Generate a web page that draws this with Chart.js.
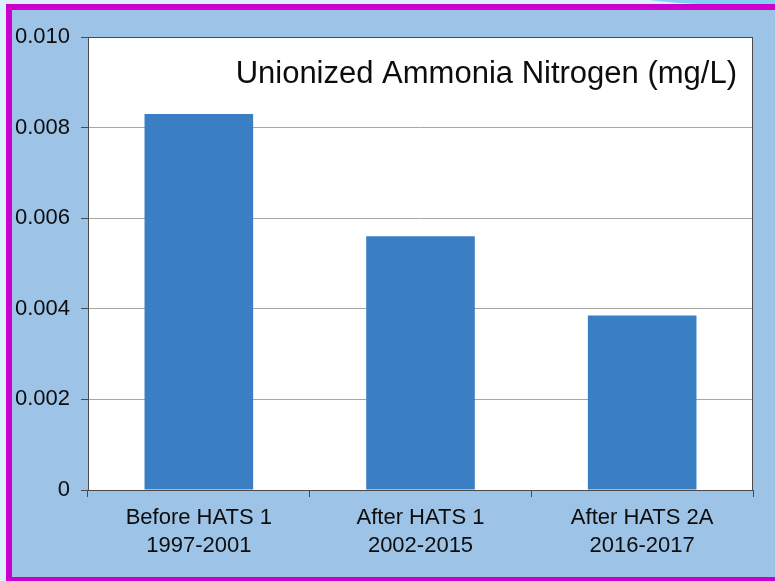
<!DOCTYPE html>
<html>
<head>
<meta charset="utf-8">
<script src="https://cdn.jsdelivr.net/npm/chart.js@4.4.1/dist/chart.umd.min.js"></script>
<style>
  html, body { margin: 0; padding: 0; }
  body { width: 775px; height: 581px; background: #dcefff; position: relative; overflow: hidden; font-family: "Liberation Sans", Arial, sans-serif; }
  .swoosh { position: absolute; left: 560px; top: -60px; width: 420px; height: 66px; border-radius: 50%; background: #80cff5; }
  .panel { position: absolute; left: 6px; top: 4px; width: 769px; height: 577px; box-sizing: border-box;
           background: #9dc3e6; border-left: 6px solid #cc00cc; border-top: 6px solid #cc00cc; border-bottom: 4px solid #cc00cc; }
  .wrap { position: absolute; left: 0; top: 0; width: 775px; height: 581px; }
</style>
</head>
<body>
<div class="swoosh"></div>
<div class="panel"></div>
<div class="wrap"><canvas id="chart"></canvas></div>
<script>
// data
const periods = [['Before HATS 1', '1997-2001'], ['After HATS 1', '2002-2015'], ['After HATS 2A', '2016-2017']];
const ammonia = [0.0083, 0.0056, 0.00385];
const chartTitle = 'Unionized Ammonia Nitrogen (mg/L)';

// white plot area, frame round it + title inside it
const frame = {
  id: 'frame',
  beforeDraw(chart) {
    const { ctx, chartArea: a } = chart;
    ctx.save();
    ctx.fillStyle = '#ffffff';
    ctx.fillRect(a.left, a.top, a.right - a.left, a.bottom - a.top);
    ctx.restore();
  },
  afterDatasetsDraw(chart) {
    const { ctx, chartArea: a } = chart;
    ctx.save();
    ctx.strokeStyle = '#4a4a4a';
    ctx.lineWidth = 1;
    ctx.strokeRect(a.left + 0.5, a.top + 0.5, a.right - a.left - 1, a.bottom - a.top);
    ctx.fillStyle = '#0d0d0d';
    ctx.font = '31px "Liberation Sans", Arial, sans-serif';
    ctx.textAlign = 'right';
    ctx.textBaseline = 'alphabetic';
    ctx.fillText(chartTitle, a.right - 16, a.top + 46);
    ctx.restore();
  }
};

new Chart(document.getElementById('chart'), {
  type: 'bar',
  data: {
    labels: periods,
    datasets: [{
      data: ammonia,
      backgroundColor: '#3a7fc3',
      borderWidth: 0,
      barPercentage: 0.49,
      categoryPercentage: 1
    }]
  },
  options: {
    responsive: true,
    maintainAspectRatio: false,
    animation: false,
    layout: { padding: { top: 37, right: 22, left: 0, bottom: 0 } },
    plugins: { legend: { display: false }, tooltip: { enabled: false } },
    scales: {
      x: {
        afterFit: s => { s.height = 91; },
        grid: { offset: true, drawOnChartArea: false, drawTicks: true, tickLength: 7, color: '#4a4a4a' },
        border: { display: false },
        ticks: { color: '#0d0d0d', padding: 7, maxRotation: 0, font: { family: '"Liberation Sans", Arial, sans-serif', size: 22, lineHeight: 1.27 } }
      },
      y: {
        min: 0,
        max: 0.01,
        afterFit: s => { s.width = 88; },
        grid: { color: '#a6a6a6', tickColor: '#4a4a4a', tickLength: 7, drawTicks: true },
        border: { display: false },
        ticks: {
          stepSize: 0.002,
          padding: 11,
          color: '#0d0d0d',
          font: { family: '"Liberation Sans", Arial, sans-serif', size: 22 },
          callback: v => v === 0 ? '0' : v.toFixed(3)
        }
      }
    }
  },
  plugins: [frame]
});
</script>
</body>
</html>
